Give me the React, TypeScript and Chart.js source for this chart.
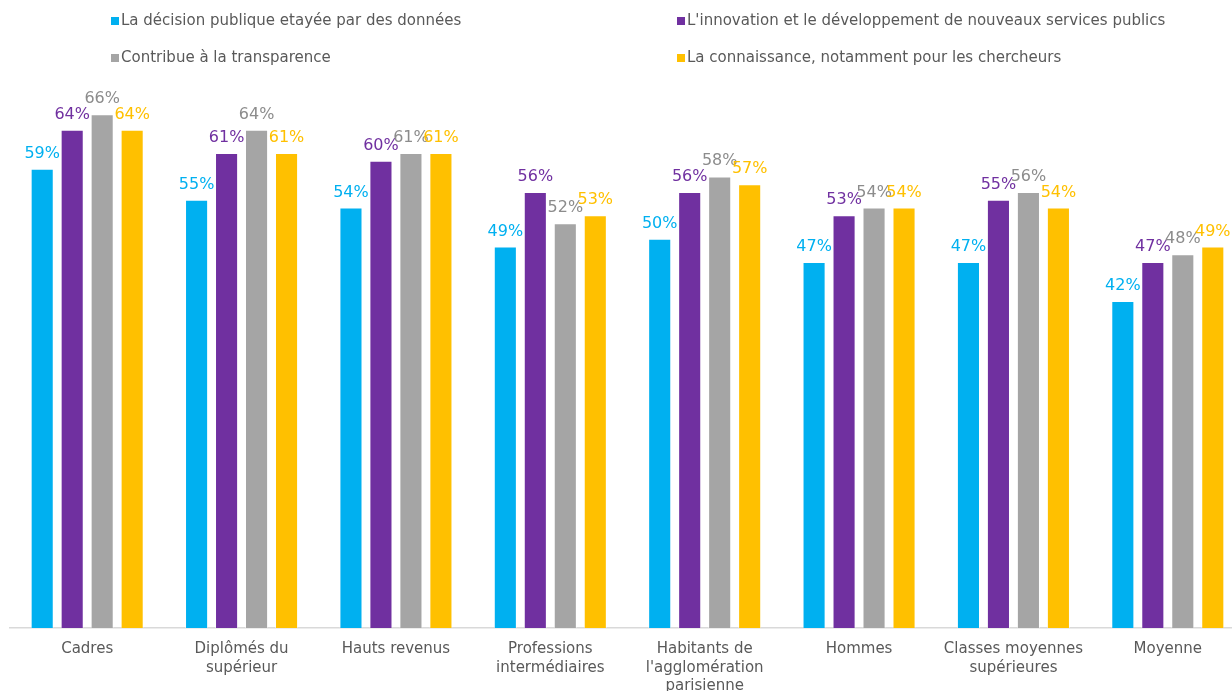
import React, { useEffect, useRef } from "react";
import { Chart, registerables } from "chart.js";

Chart.register(...registerables);

const categories: (string | string[])[] = [
  "Cadres",
  ["Diplômés du", "supérieur"],
  "Hauts revenus",
  ["Professions", "intermédiaires"],
  ["Habitants de", "l'agglomération", "parisienne"],
  "Hommes",
  ["Classes moyennes", "supérieures"],
  "Moyenne",
];

const seriesNames = [
  "La décision publique etayée par des données",
  "L'innovation et le développement de nouveaux services publics",
  "Contribue à la transparence",
  "La connaissance, notamment pour les chercheurs",
];

const decision = [59, 55, 54, 49, 50, 47, 47, 42];
const innovation = [64, 61, 60, 56, 56, 53, 55, 47];
const transparence = [66, 64, 61, 52, 58, 54, 56, 48];
const connaissance = [64, 61, 61, 53, 57, 54, 54, 49];

const barColors = ["#00B0F0", "#7030A0", "#A5A5A5", "#FFC000"];
const labelColors = ["#00B0F0", "#7030A0", "#8C8C8C", "#FFC000"];

const FONT = "'DejaVu Sans', Verdana, sans-serif";

const dataLabelPlugin = {
  id: "dataLabels",
  afterDatasetsDraw(chart: any) {
    const ctx = chart.ctx;
    ctx.save();
    ctx.font = `16px ${FONT}`;
    ctx.textAlign = "center";
    ctx.textBaseline = "alphabetic";
    chart.data.datasets.forEach((ds: any, i: number) => {
      const meta = chart.getDatasetMeta(i);
      ctx.fillStyle = labelColors[i];
      meta.data.forEach((bar: any, j: number) => {
        ctx.fillText(`${ds.data[j]}%`, bar.x, bar.y - 11);
      });
    });
    ctx.restore();
  },
};

const legendPlugin = {
  id: "customLegend",
  afterDraw(chart: any) {
    const ctx = chart.ctx;
    ctx.save();
    ctx.font = `15px ${FONT}`;
    ctx.textBaseline = "middle";
    ctx.textAlign = "left";
    const cols = [111, 677];
    const rows = [21, 58];
    const order = [
      [0, 0],
      [1, 0],
      [0, 1],
      [1, 1],
    ];
    seriesNames.forEach((name, i) => {
      const [c, r] = order[i];
      const x = cols[c];
      const y = rows[r];
      ctx.fillStyle = barColors[i];
      ctx.fillRect(x, y - 4, 8, 8);
      ctx.fillStyle = "#595959";
      ctx.fillText(name, x + 10, y);
    });
    ctx.restore();
  },
};

export default function App() {
  const canvasRef = useRef<HTMLCanvasElement>(null);

  useEffect(() => {
    if (!canvasRef.current) return;
    const seriesValues = [decision, innovation, transparence, connaissance];
    const chart = new Chart(canvasRef.current, {
      type: "bar",
      data: {
        labels: categories,
        datasets: seriesValues.map((vals, i) => ({
          label: seriesNames[i],
          data: vals,
          backgroundColor: barColors[i],
          borderColor: "rgba(255,255,255,0.45)",
          borderWidth: 1,
          barPercentage: 0.77,
          categoryPercentage: 0.777,
        })),
      },
      options: {
        animation: false,
        responsive: true,
        maintainAspectRatio: false,
        layout: { padding: { top: 83, left: 10, right: 5, bottom: 0 } },
        plugins: {
          legend: { display: false },
          tooltip: { enabled: false },
        },
        scales: {
          x: {
            grid: { display: false, drawTicks: false },
            border: { display: true, color: "#D9D9D9", width: 1.5 },
            ticks: {
              color: "#595959",
              font: { family: FONT, size: 15, lineHeight: 1.23 },
              padding: 12,
              maxRotation: 0,
              autoSkip: false,
            },
            afterFit(scale: any) {
              scale.height = 72;
            },
          },
          y: {
            display: false,
            min: 0,
            max: 70,
          },
        },
      },
      plugins: [dataLabelPlugin, legendPlugin],
    });
    return () => chart.destroy();
  }, []);

  return (
    <div
      style={{
        position: "fixed",
        left: 0,
        top: 0,
        width: 1250,
        height: 700,
        background: "#fff",
      }}
    >
      <canvas ref={canvasRef} />
    </div>
  );
}
